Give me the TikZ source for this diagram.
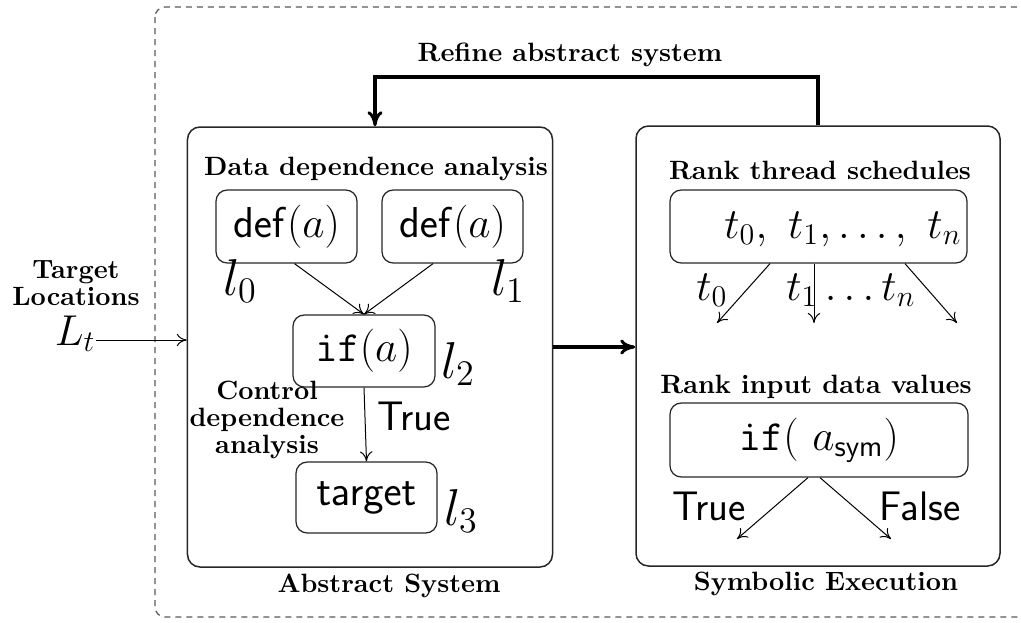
\documentclass[tikz,border=0pt]{standalone}
\usetikzlibrary{arrows.meta,calc}
\begin{document}
\begin{tikzpicture}[x=0.4pt,y=-0.4pt,
  lbl/.style={font=\fontsize{10.6}{10.8}\selectfont\bfseries,inner sep=0pt,align=center},
  bigbox/.style={draw=black!85,line width=0.6pt,rounded corners=5pt,minimum width=146pt,minimum height=176pt,inner sep=0pt},
  smallbox/.style={draw=black!85,line width=0.5pt,rounded corners=4.5pt,inner sep=0pt,font=\fontsize{18}{21}\selectfont},
  mth/.style={font=\fontsize{18}{21}\selectfont,inner sep=0pt},
  loc/.style={font=\fontsize{19.5}{22}\selectfont,inner sep=0pt},
  sflbl/.style={font=\fontsize{16.5}{20}\selectfont\sffamily,inner sep=0pt},
  thin arrow/.style={line width=0.4pt,-{To[length=4pt,width=5pt]}},
  thick arrow/.style={line width=1.4pt,-{To[length=6pt,width=6pt,line width=1.2pt]}},
]
\useasboundingbox (0,0) rectangle (1021,622);
% outer dashed frame
\draw[black!65,line width=0.5pt,dash pattern=on 2.4pt off 2pt,rounded corners=4pt] (155,7) rectangle (1060,617);

% main boxes
\node[bigbox] (AS) at (370,347) {};
\node[bigbox,minimum width=145.6pt] (SE) at (818,346) {};
\node[lbl,anchor=base] (ASl) at (389,592) {Abstract System};
\node[lbl,anchor=base] (SEl) at (826,590) {Symbolic Execution};

% feedback
\coordinate (top) at (0,77);
\node[lbl,anchor=base] (refine) at (570,61) {Refine abstract system};
\draw[thick arrow] (SE.north) -- (SE.north |- top) -| ([xshift=2pt]AS.north);
% forward
\draw[thick arrow] (AS.east) -- (AS.east -| SE.west);

% input
\node[lbl,anchor=base] (tl) at (76,305) {Target\\Locations};
\node[mth,anchor=base east] (Lt) at (96,345) {$L_t$};
\draw[thin arrow] ([yshift=2pt]Lt.base east) -- ([yshift=2pt]Lt.base east -| AS.west);

% abstract system content
\node[lbl,anchor=base] (dda) at (376,175) {Data dependence analysis};
\node[smallbox,minimum width=56.4pt,minimum height=29.2pt] (d0) at (286.5,226.5) {$\mathsf{def}(a)$};
\node[smallbox,minimum width=56.4pt,minimum height=29.2pt] (d1) at (452.5,226.5) {$\mathsf{def}(a)$};
\node[loc,anchor=base] (l0) at (240,295) {$l_0$};
\node[loc,anchor=base] (l1) at (508,295) {$l_1$};
\node[smallbox,minimum width=56.8pt,minimum height=28.8pt] (ifa) at (364,351) {$\mathtt{if}(a)$};
\node[loc,anchor=base] (l2) at (458,378) {$l_2$};
\node[smallbox,minimum width=56.4pt,minimum height=28.4pt] (tgt) at (366.5,497.5) {$\mathsf{target}$};
\node[loc,anchor=base] (l3) at (461,525) {$l_3$};
\draw[thin arrow] ([xshift=3.2pt]d0.south) -- (ifa.north);
\draw[thin arrow] ([xshift=-7.8pt]d1.south) -- (ifa.north);
\draw[thin arrow] (ifa.south) -- (tgt.north);
\node[sflbl,anchor=base] (tr1) at (414,430) {True};
\node[lbl,anchor=base] (cda) at (267,453) {Control\\dependence\\analysis};

% symbolic execution content
\node[lbl,anchor=base] (rts) at (820,179) {Rank thread schedules};
\node[smallbox,minimum width=118.8pt,minimum height=29.2pt] (tb) at (818.5,226.5) {};
\node[mth] (tlist) at (843,229) {$t_0,\ t_1,\ldots,\ t_n$};
\coordinate (e0) at (717,323);
\coordinate (e1) at (814,323);
\coordinate (e2) at (957,323);
\draw[thin arrow] ([xshift=-19.4pt]tb.south) -- (e0);
\draw[thin arrow] (tb.south -| e1) -- (e1);
\draw[thin arrow] ([xshift=34.6pt]tb.south) -- (e2);
\node[mth,anchor=base] (lt0) at (712,300) {$t_0$};
\node[mth,anchor=base] (lt1) at (851,300) {$t_1\ldots t_n$};
\node[lbl,anchor=base] (ridv) at (816,393) {Rank input data values};
\node[smallbox,minimum width=119.2pt,minimum height=29.6pt] (ifs) at (819,440) {$\mathtt{if}(\ a_{\mathsf{sym}})$};
\coordinate (f0) at (737,539);
\coordinate (f1) at (891,539);
\draw[thin arrow] ([xshift=-4.4pt]ifs.south) -- (f0);
\draw[thin arrow] ([xshift=0.4pt]ifs.south) -- (f1);
\node[sflbl,anchor=base] (tr2) at (709,520) {True};
\node[sflbl,anchor=base] (fa2) at (920,520) {False};
\end{tikzpicture}
\end{document}
